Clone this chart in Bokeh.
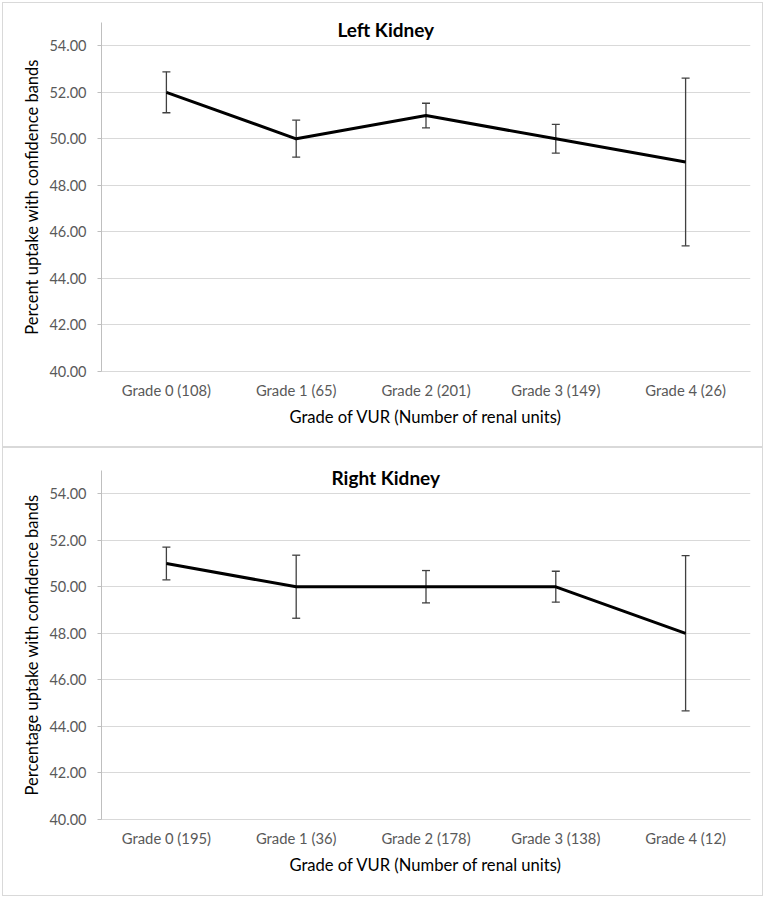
from bokeh.plotting import figure
from bokeh.models import (Range1d, FactorRange, Whisker, TeeHead, ColumnDataSource,
                          Label, FixedTicker, NumeralTickFormatter)
from bokeh.layouts import column
from bokeh.embed import file_html
from bokeh.resources import INLINE

# ---------------- data ----------------
grades = ["Grade 0", "Grade 1", "Grade 2", "Grade 3", "Grade 4"]
left_units = [108, 65, 201, 149, 26]
right_units = [195, 36, 178, 138, 12]

left_mean = [52.0, 50.0, 51.0, 50.0, 49.0]
left_lower = [51.12, 49.21, 50.47, 49.39, 45.40]
left_upper = [52.88, 50.80, 51.53, 50.62, 52.61]

right_mean = [51.0, 50.0, 50.0, 50.0, 48.0]
right_lower = [50.30, 48.65, 49.31, 49.34, 44.67]
right_upper = [51.71, 51.36, 50.70, 50.67, 51.34]

y_ticks = [40, 42, 44, 46, 48, 50, 52, 54]

FONT = "Lato"
GRID = "#d9d9d9"


def make_panel(units, mean, lower, upper, title, ylabel, b_top, b_bottom):
    factors = [f"{g} ({n})" for g, n in zip(grades, units)]
    src = ColumnDataSource(dict(x=factors, y=mean, lower=lower, upper=upper))
    p = figure(x_range=FactorRange(*factors), y_range=Range1d(40, 55),
               frame_width=647, frame_height=347,
               min_border_left=98, min_border_right=14,
               min_border_top=b_top, min_border_bottom=b_bottom,
               output_backend="svg", toolbar_location=None)
    p.styles = {"border": "1px solid #d9d9d9"}
    p.outline_line_color = None
    p.background_fill_color = "white"
    p.border_fill_color = "white"

    # grid
    p.xgrid.grid_line_color = None
    p.ygrid.grid_line_color = GRID
    p.ygrid.grid_line_width = 1

    # y axis
    p.yaxis.ticker = FixedTicker(ticks=y_ticks)
    p.yaxis.formatter = NumeralTickFormatter(format="0.00")
    p.yaxis.axis_line_color = "#bfbfbf"
    p.yaxis.major_tick_line_color = "#bfbfbf"
    p.yaxis.major_tick_in = 0
    p.yaxis.major_tick_out = 4
    p.yaxis.minor_tick_line_color = None
    p.yaxis.major_label_standoff = 11
    p.yaxis.major_label_text_font = FONT
    p.yaxis.major_label_text_font_size = "14.5px"
    p.yaxis.major_label_text_color = "#595959"
    p.yaxis.axis_label = ylabel
    p.yaxis.axis_label_text_font = FONT
    p.yaxis.axis_label_text_font_style = "normal"
    p.yaxis.axis_label_text_font_size = "16.5px"
    p.yaxis.axis_label_text_color = "#000000"
    p.yaxis.axis_label_standoff = 4

    # x axis
    p.xaxis.axis_line_color = GRID
    p.xaxis.major_tick_line_color = None
    p.xaxis.major_tick_in = 0
    p.xaxis.major_tick_out = 0
    p.xaxis.major_label_standoff = 9
    p.xaxis.major_label_text_font = FONT
    p.xaxis.major_label_text_font_size = "14.8px"
    p.xaxis.major_label_text_color = "#595959"
    p.xaxis.axis_label = "Grade of VUR (Number of renal units)"
    p.xaxis.axis_label_text_font = FONT
    p.xaxis.axis_label_text_font_style = "normal"
    p.xaxis.axis_label_text_font_size = "16.6px"
    p.xaxis.axis_label_text_color = "#000000"
    p.xaxis.axis_label_standoff = 5

    # error bars
    w = Whisker(source=src, base="x", upper="upper", lower="lower",
                line_color="#404040", line_width=1.3,
                upper_head=TeeHead(size=8, line_color="#404040", line_width=1.3),
                lower_head=TeeHead(size=8, line_color="#404040", line_width=1.3))
    p.add_layout(w)

    # mean line
    p.line("x", "y", source=src, line_color="black", line_width=3)

    # panel title
    p.add_layout(Label(x=2.19, y=54.7, text=title, text_align="center",
                       text_baseline="middle", text_font=FONT,
                       text_font_style="bold", text_font_size="19px",
                       text_color="black"))
    return p


p1 = make_panel(left_units, left_mean, left_lower, left_upper, "Left Kidney",
                "Percent uptake with confidence bands", 19, 77)
p2 = make_panel(right_units, right_mean, right_lower, right_upper, "Right Kidney",
                "Percentage uptake with confidence bands", 22, 78)

layout = column(p1, p2, spacing=0, margin=(2, 0, 0, 2))
open("out.html", "w").write(file_html(layout, INLINE))
